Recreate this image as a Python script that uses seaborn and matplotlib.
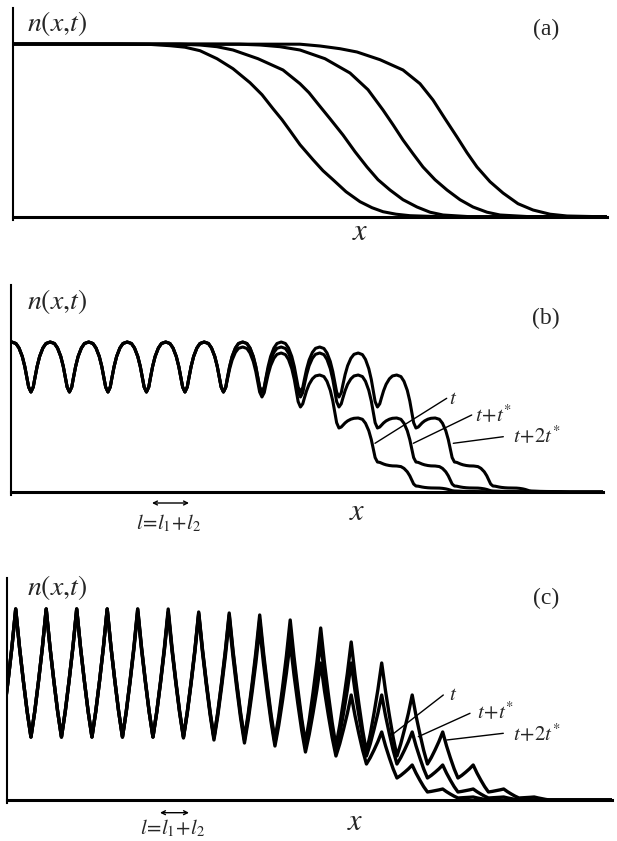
"""
Travelling fronts n(x,t): (a) plain front, (b) smooth periodic medium,
(c) sharp periodic medium. Redrawn with seaborn line plots.
"""

import matplotlib
import matplotlib.pyplot as plt
import seaborn as sns

matplotlib.use("Agg")

sns.set_style("white")
plt.rcParams["font.family"] = ["Liberation Serif", "DejaVu Serif"]
plt.rcParams["mathtext.fontset"] = "stix"

FIG_W, FIG_H = 617, 841
LINE_W = 2.2

# ------------------------------------------------------------------
# Data (x in px along the axis, n = height above the baseline in px)
# ------------------------------------------------------------------

# (a) four fronts, read point by point
A_X1 = [13, 120, 150, 170, 185, 200, 217, 233, 250, 262, 273, 282, 290, 300, 313,
        323, 333, 346, 360, 372, 383, 396, 410, 440, 607]
A_N1 = [172.7, 172.7, 172.3, 171, 169.5, 166, 158, 148, 134, 122, 108, 97, 86, 72, 57,
        46, 37, 25, 15, 9, 5, 2.5, 1, 0, 0]
A_X2 = [13, 180, 200, 217, 233, 258, 283, 300, 309, 317, 330, 343, 355, 367, 378,
        390, 403, 417, 430, 443, 470, 607]
A_N2 = [172.7, 172.5, 171.7, 170, 166.7, 158, 146.7, 133, 124, 114, 98, 81.7, 65, 49.7, 37,
        26.7, 17, 9.7, 4.5, 1.7, 0, 0]
A_X3 = [13, 240, 260, 280, 300, 325, 350, 368, 383, 393, 403, 413, 423, 435, 447,
        460, 473, 487, 500, 530, 607]
A_N3 = [172.7, 172.5, 171.7, 170, 166.7, 158, 143.7, 127, 106.7, 92, 76.7, 63, 49.7, 37, 26.7,
        17, 9.7, 4.5, 1.7, 0, 0]
A_X4 = [13, 300, 320, 340, 357, 380, 403, 420, 433, 445, 457, 467, 477, 490, 503,
        518, 533, 550, 567, 600, 607]
A_N4 = [172.7, 172.5, 170.7, 168, 164.7, 157, 146.7, 133, 116.7, 98, 79.7, 64, 49.7, 35, 23.7,
        13, 6.7, 2.5, 0.7, 0, 0]

# (b) smooth waves: first peak at x=11.7, period 38.5
B_X_FIRST = 11.7
B_PERIOD = 38.5
B_PEAKS_T = [150, 150, 150, 150, 150, 150, 145, 139, 117, 74, 26, 4, 0.5, 0, 0]
B_TROUGHS_T = [100, 100, 100, 100, 100, 100, 95, 85, 64, 30, 6, 1, 0, 0, 0]
B_PEAKS_T1 = [150, 150, 150, 150, 150, 150, 150, 145, 139, 117, 74, 26, 4, 0.5, 0]
B_TROUGHS_T1 = [100, 100, 100, 100, 100, 100, 100, 95, 85, 64, 30, 6, 1, 0, 0]
B_PEAKS_T2 = [150, 150, 150, 150, 150, 150, 150, 150, 145, 139, 117, 74, 26, 4, 0.5]
B_TROUGHS_T2 = [100, 100, 100, 100, 100, 100, 100, 100, 95, 85, 64, 30, 6, 1, 0]
B_SHAPE_P = [0, 0.12, 0.2, 0.32, 0.45, 0.62, 0.78, 1]
B_SHAPE_F = [0, 0.1, 0.27, 0.51, 0.71, 0.88, 0.97, 1]

# (c) sharp waves: first peak at x=15.7, period 30.5
# troughs listed as "trough before peak k", plus the final one
C_X_FIRST = 15.7
C_PERIOD = 30.5
C_PEAKS_T = [191, 191, 191, 191, 188, 187, 185, 180, 172, 158, 137, 105, 68, 35, 11, 3, 0, 0, 0]
C_TROUGHS_T = [63, 63, 63, 63, 63, 63, 62, 60, 57, 54, 48, 44, 36, 22, 8, 2, 0, 0, 0, 0]
C_PEAKS_T1 = [191, 191, 191, 191, 191, 188, 187, 185, 180, 172, 158, 137, 105, 68, 35, 11, 3, 0, 0]
C_TROUGHS_T1 = [63, 63, 63, 63, 63, 63, 63, 62, 60, 57, 54, 48, 44, 36, 22, 8, 2, 0, 0, 0]
C_PEAKS_T2 = [191, 191, 191, 191, 191, 191, 188, 187, 185, 180, 172, 158, 137, 105, 68, 35, 11, 3, 0]
C_TROUGHS_T2 = [63, 63, 63, 63, 63, 63, 63, 63, 62, 60, 57, 54, 48, 44, 36, 22, 8, 2, 0, 0]
C_SHAPE_P = [0, 0.25, 0.5, 0.75, 1]
C_SHAPE_F = [0, 0.2, 0.44, 0.7, 1]

CURVE_LABELS = [r"$t$", r"$t\!+\!t^{*}$", r"$t\!+\!2t^{*}$"]

# panel frames in figure pixels: axis x, right end, axis top, baseline
PANELS = {
    "a": dict(x0=13, x1=607, top=8, base=216.7),
    "b": dict(x0=11, x1=603, top=285, base=492),
    "c": dict(x0=7.3, x1=612, top=578, base=800),
}


def _interleave(first, second):
    out = []
    for i in range(max(len(first), len(second))):
        if i < len(first):
            out.append(first[i])
        if i < len(second):
            out.append(second[i])
    return out


def _wave(x_first, period, extremes, first_is_peak, shape_p, shape_f, x_end):
    """Join alternating peak/trough values with the read half-period shape."""
    half = period / 2
    xs, ys = [], []
    for i in range(len(extremes) - 1):
        a, b = extremes[i], extremes[i + 1]
        xa = x_first + i * half
        a_is_peak = (i % 2 == 0) == first_is_peak
        if a_is_peak:
            pts = [(xa + (1 - p) * half, b + (a - b) * f) for p, f in zip(shape_p, shape_f)][::-1]
        else:
            pts = [(xa + p * half, a + (b - a) * f) for p, f in zip(shape_p, shape_f)]
        if i > 0:
            pts = pts[1:]
        xs += [p[0] for p in pts]
        ys += [p[1] for p in pts]
    xs.append(x_end)
    ys.append(0)
    return xs, ys


def _panel(fig, key):
    fr = PANELS[key]
    pad = 3
    ax = fig.add_axes([
        fr["x0"] / FIG_W,
        1 - (fr["base"] + pad) / FIG_H,
        (fr["x1"] - fr["x0"]) / FIG_W,
        (fr["base"] + pad - fr["top"]) / FIG_H,
    ])
    ax.set_xlim(fr["x0"], fr["x1"])
    ax.set_ylim(-pad, fr["base"] - fr["top"])
    sns.despine(ax=ax)
    ax.spines["bottom"].set_position(("data", 0))
    ax.spines["bottom"].set_linewidth(2.2)
    ax.spines["left"].set_linewidth(1.5)
    for s in ("bottom", "left"):
        ax.spines[s].set_color("black")
    ax.set_xticks([])
    ax.set_yticks([])
    ax.patch.set_alpha(0)
    return ax


def _line(ax, xs, ys, lw=LINE_W):
    sns.lineplot(x=xs, y=ys, ax=ax, color="black", linewidth=lw,
                 estimator=None, sort=False, legend=False,
                 solid_joinstyle="round", solid_capstyle="round")


def _common_text(ax, key, ylab_h, tag_h, x_h, x_x):
    ax.text(57, ylab_h, r"$n(x{,}t)$", fontsize=20, ha="center", va="center")
    ax.text(546, tag_h, f"({key})", fontsize=17, ha="center", va="center")
    ax.text(x_x, x_h, r"$x$", fontsize=22, ha="center", va="center", clip_on=False)


def _period_marker(ax, x_left, x_right, arrow_h, label_h):
    ax.annotate("", xy=(x_right, arrow_h), xytext=(x_left, arrow_h),
                arrowprops=dict(arrowstyle="<->", lw=1.0, color="black",
                                mutation_scale=7, shrinkA=0, shrinkB=0),
                annotation_clip=False)
    ax.text((x_left + x_right) / 2 - 2, label_h, r"$l\!=\!l_1\!+\!l_2$", fontsize=15,
            ha="center", va="center", clip_on=False)


def _curve_labels(ax, leaders, text_pos):
    for (p0, p1), (tx, ty), lab in zip(leaders, text_pos, CURVE_LABELS):
        ax.annotate("", xy=p0, xytext=p1,
                    arrowprops=dict(arrowstyle="-", lw=1.0, color="black",
                                    shrinkA=0, shrinkB=0))
        ax.text(tx, ty, lab, fontsize=15, ha="left", va="center")


fig = plt.figure(figsize=(FIG_W / 100, FIG_H / 100), dpi=100)

# (a)
ax_a = _panel(fig, "a")
for xs, ns in [(A_X1, A_N1), (A_X2, A_N2), (A_X3, A_N3), (A_X4, A_N4)]:
    _line(ax_a, xs, ns)
_common_text(ax_a, "a", 193.7, 187.7, -16.3, 360)

# (b)
ax_b = _panel(fig, "b")
for peaks, troughs in [(B_PEAKS_T, B_TROUGHS_T), (B_PEAKS_T1, B_TROUGHS_T1),
                       (B_PEAKS_T2, B_TROUGHS_T2)]:
    ext = _interleave(peaks, troughs)
    xs, ys = _wave(B_X_FIRST, B_PERIOD, ext, True, B_SHAPE_P, B_SHAPE_F, PANELS["b"]["x1"])
    _line(ax_b, xs, ys)
_common_text(ax_b, "b", 190, 174, -20, 357)
_period_marker(ax_b, 152, 189, -11, -31)
_curve_labels(ax_b,
              [((375, 48.7), (446.7, 93.7)), ((413.3, 48.7), (471.7, 77)),
               ((453.3, 48.7), (503.3, 55.3))],
              [(449, 92), (475, 76), (513, 55)])

# (c)
ax_c = _panel(fig, "c")
for peaks, troughs in [(C_PEAKS_T, C_TROUGHS_T), (C_PEAKS_T1, C_TROUGHS_T1),
                       (C_PEAKS_T2, C_TROUGHS_T2)]:
    ext = _interleave(troughs, peaks)
    xs, ys = _wave(C_X_FIRST - C_PERIOD / 2, C_PERIOD, ext, False, C_SHAPE_P, C_SHAPE_F,
                   PANELS["c"]["x1"])
    _line(ax_c, xs, ys, lw=2.4)
_common_text(ax_c, "c", 212, 202, -23, 355)
_period_marker(ax_c, 160, 189, -12.7, -28)
_curve_labels(ax_c,
              [((391.7, 65), (443.3, 105)), ((418.3, 63.3), (470, 86.7)),
               ((446.7, 60), (503.3, 66.7))],
              [(449, 105), (477, 87), (513, 65)])

fig.savefig("out.png", dpi=100, facecolor="white")
plt.close(fig)
